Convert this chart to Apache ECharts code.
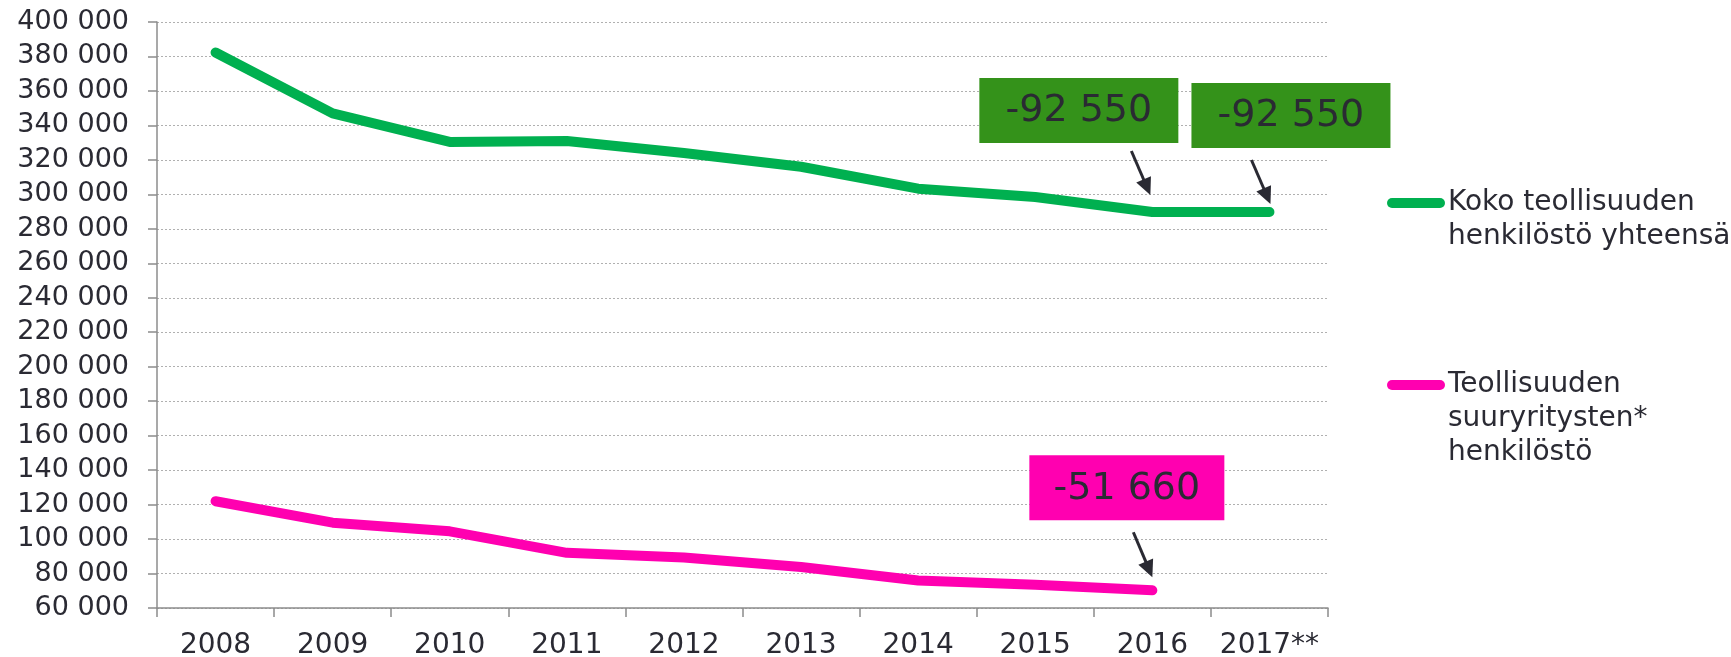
<!DOCTYPE html>
<html>
<head>
<meta charset="utf-8">
<script src="https://cdn.jsdelivr.net/npm/echarts@6/dist/echarts.min.js"></script>
<style>
	html, body { margin: 0; padding: 0; background: #fff; }
	#main { width: 1731px; height: 657px; }
</style>
</head>
<body>
<div id="main"></div>
<script>
// data
var categories = ['2008', '2009', '2010', '2011', '2012', '2013', '2014', '2015', '2016', '2017**'];
var totalStaff = [382300, 347000, 330400, 331000, 324000, 316000, 303300, 298500, 289750, 289750];
var largeFirmStaff = [121960, 109500, 104500, 92000, 89300, 83800, 76000, 73500, 70300, null];
var seriesNames = ['Koko teollisuuden\nhenkilöstö yhteensä', 'Teollisuuden\nsuuryritysten*\nhenkilöstö'];
var yMin = 60000, yMax = 400000, yStep = 20000;
// callouts: which point they point at and what they say
var callouts = [
	{ series: 0, index: 8, text: '-92 550' },
	{ series: 0, index: 9, text: '-92 550' },
	{ series: 1, index: 8, text: '-51 660' }
];

var colors = ['#00b050', '#ff00b0'];
var boxColors = ['#34921a', '#ff00b0'];
var textColor = '#2a2a33';
var font = 'DejaVu Sans';

// offsets (px) of arrow tail/tip and box relative to the pointed data point
var calloutLayout = [
	{ tip: [-2, -17], tail: [-21, -61], box: [-173, -134, 199, 65] },
	{ tip: [1, -8], tail: [-18, -52], box: [-78, -129, 199, 65] },
	{ tip: [0, -13], tail: [-19, -58], box: [-123, -135, 195, 65] }
];

function fmt(v) {
	return String(v).replace(/\B(?=(\d{3})+(?!\d))/g, ' ');
}

var myChart = echarts.init(document.getElementById('main'));
var option = {
	animation: false,
	backgroundColor: '#fff',
	grid: { left: 157, right: 403, top: 22, bottom: 49, outerBoundsMode: 'none', containLabel: false },
	xAxis: {
		type: 'category',
		data: categories,
		axisLine: { lineStyle: { color: '#8c8c8c', width: 1.5 } },
		axisTick: { show: true, length: 9, interval: 0, lineStyle: { color: '#8c8c8c', width: 1.5 } },
		axisLabel: { interval: 0, color: textColor, fontFamily: font, fontSize: 28, margin: 24 }
	},
	yAxis: {
		type: 'value',
		min: yMin,
		max: yMax,
		interval: yStep,
		axisLine: { show: true, lineStyle: { color: '#8c8c8c', width: 1.5 } },
		axisTick: { show: true, length: 9, lineStyle: { color: '#8c8c8c', width: 1.5 } },
		axisLabel: { color: textColor, fontFamily: font, fontSize: 27, margin: 28, formatter: fmt },
		splitLine: { lineStyle: { color: '#b0b0b0', width: 1, type: [2, 2] } }
	},
	series: [
		{
			name: seriesNames[0],
			type: 'line',
			data: totalStaff,
			symbol: 'none',
			lineStyle: { color: colors[0], width: 10, cap: 'round', join: 'round' }
		},
		{
			name: seriesNames[1],
			type: 'line',
			data: largeFirmStaff,
			symbol: 'none',
			lineStyle: { color: colors[1], width: 10, cap: 'round', join: 'round' }
		}
	]
};
myChart.setOption(option);

var graphics = [];
var seriesData = [totalStaff, largeFirmStaff];

// callout boxes and arrows
callouts.forEach(function(c, i) {
	var p = myChart.convertToPixel({ gridIndex: 0 }, [c.index, seriesData[c.series][c.index]]);
	var l = calloutLayout[i];
	var b = l.box;
	graphics.push({
		type: 'rect',
		shape: { x: p[0] + b[0], y: p[1] + b[1], width: b[2], height: b[3] },
		style: { fill: boxColors[c.series] },
		z: 10
	});
	graphics.push({
		type: 'text',
		x: p[0] + b[0] + b[2] / 2,
		y: p[1] + b[1] + b[3] / 2 + 1,
		style: { text: c.text, fill: textColor, font: '38px "' + font + '"', align: 'center', verticalAlign: 'middle' },
		z: 11
	});
	var tx = p[0] + l.tip[0], ty = p[1] + l.tip[1];
	var sx = p[0] + l.tail[0], sy = p[1] + l.tail[1];
	var dx = tx - sx, dy = ty - sy, len = Math.sqrt(dx * dx + dy * dy);
	var ux = dx / len, uy = dy / len;
	var headLen = 17, headW = 8;
	var bx = tx - ux * headLen, by = ty - uy * headLen;
	graphics.push({
		type: 'line',
		shape: { x1: sx, y1: sy, x2: bx + ux * 2, y2: by + uy * 2 },
		style: { stroke: textColor, lineWidth: 3 },
		z: 10
	});
	graphics.push({
		type: 'polygon',
		shape: { points: [[tx, ty], [bx - uy * headW, by + ux * headW], [bx + uy * headW, by - ux * headW]] },
		style: { fill: textColor },
		z: 10
	});
});

// legend
var legendRows = [203, 385];
seriesNames.forEach(function(name, i) {
	graphics.push({
		type: 'line',
		shape: { x1: 1392, y1: legendRows[i], x2: 1440, y2: legendRows[i] },
		style: { stroke: colors[i], lineWidth: 10, lineCap: 'round' }
	});
	graphics.push({
		type: 'text',
		x: 1448,
		y: legendRows[i] - 17,
		style: { text: name, fill: textColor, font: '28px "' + font + '"', lineHeight: 34, verticalAlign: 'top' }
	});
});

myChart.setOption({ graphic: graphics });
</script>
</body>
</html>
